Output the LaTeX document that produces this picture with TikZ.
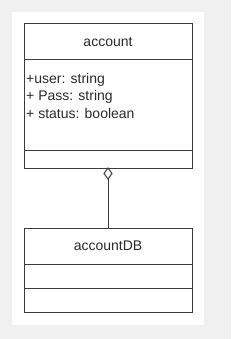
\documentclass[tikz,border=0pt]{standalone}
\usepackage{fontspec}
\setmainfont{Liberation Sans}
\definecolor{bggray}{HTML}{F0F0F0}
\definecolor{linegray}{HTML}{3C3C3C}
\definecolor{txtgray}{HTML}{2A2A2A}
\begin{document}
\begin{tikzpicture}[x=1pt,y=-1pt,
  box/.style={draw=linegray,line width=1pt,fill=white},
  title/.style={font=\fontsize{14}{17}\selectfont,text=txtgray,inner sep=0pt},
  attr/.style={font=\fontsize{14}{17}\selectfont,text=txtgray,inner sep=0pt,anchor=base west},
  conn/.style={draw=linegray,line width=1pt}]
\useasboundingbox (0,0) rectangle (231,339);
\fill[bggray] (0,0) rectangle (231,339);
\fill[white] (12,12) rectangle (204,325);
% account class
\draw[box] (24,24) rectangle (192,168);
\draw[conn] (24,60) -- (192,60);
\draw[conn] (24,150) -- (192,150);
\node[title] (acc) at (108,42) {account};
\node[attr] (a1) at (26,83.5) {+user: string};
\node[attr] (a2) at (26,101) {+ Pass: string};
\node[attr] (a3) at (26,118.5) {+ status: boolean};
\coordinate (accbot) at (108,168);
% accountDB class
\draw[box] (24,228) rectangle (192,312);
\draw[conn] (24,264) -- (192,264);
\draw[conn] (24,288) -- (192,288);
\node[title] (db) at (108,246) {accountDB};
\coordinate (dbtop) at (108,228);
\coordinate (dtip) at (108,179);
% aggregation
\draw[conn,fill=white] (accbot) -- (112,173.5) -- (dtip) -- (104,173.5) -- cycle;
\draw[conn] (dtip) -- (dbtop);
\end{tikzpicture}
\end{document}
